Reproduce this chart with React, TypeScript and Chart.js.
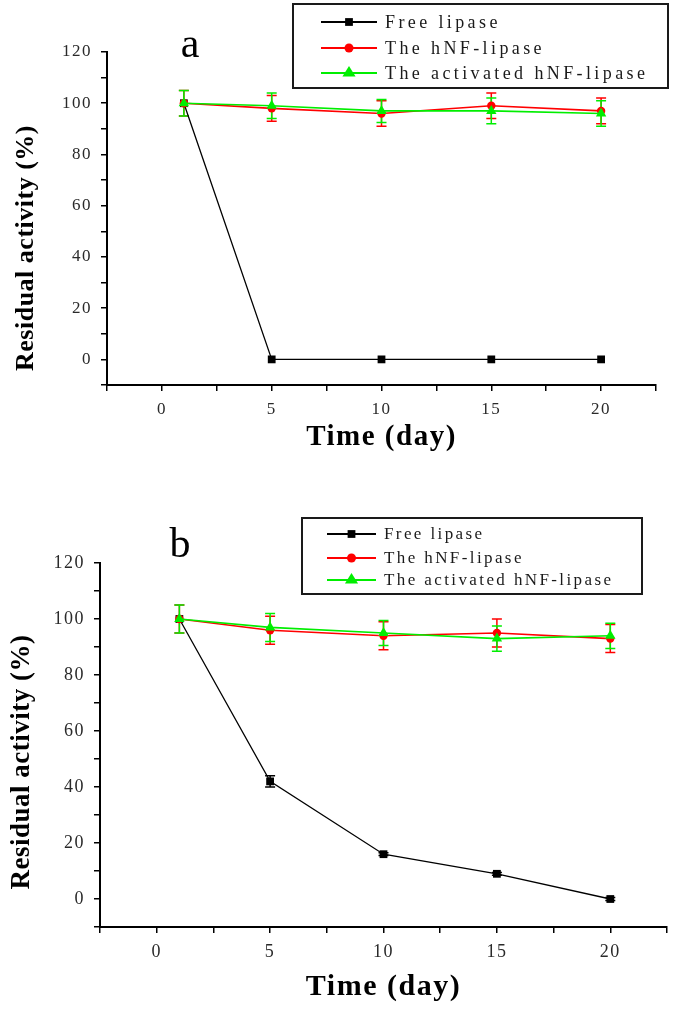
import React, { useEffect, useRef } from "react";
import { Chart, registerables } from "chart.js";

Chart.register(...registerables);

// ---------- data ----------
const days = [1, 5, 10, 15, 20];
const seriesLabels = ["Free lipase", "The hNF-lipase", "The activated hNF-lipase"];

// panel a
const freeA = [100, 0, 0, 0, 0];
const freeErrA = [0, 0, 0, 0, 0];
const hnfA = [100, 98, 96, 99, 97];
const hnfErrA = [5, 5, 5, 5, 5];
const actA = [100, 99, 97, 97, 96];
const actErrA = [5, 5, 4.5, 5, 5];

// panel b
const freeB = [100, 42, 16, 9, 0];
const freeErrB = [0, 2, 0.5, 0.5, 0.5];
const hnfB = [100, 96, 94, 95, 93];
const hnfErrB = [5, 5, 5, 5, 5];
const actB = [100, 97, 95, 93, 94];
const actErrB = [5, 5, 4.5, 4.5, 4.5];

const xMin = -2.5;
const xMax = 22.5;
const xStep = 2.5;
const xLabelEvery = 5;
const yMin = -10;
const yMax = 120;
const yStep = 10;
const yLabelEvery = 20;

const xTitle = "Time (day)";
const yTitle = "Residual activity (%)";

const seriesColors = ["#000000", "#ff0000", "#00ee00"];

const SERIF = "'Liberation Serif', 'Times New Roman', serif";

// ---------- plugins ----------
function drawMarker(ctx: CanvasRenderingContext2D, style: string, x: number, y: number, r: number, color: string) {
  ctx.save();
  ctx.fillStyle = color;
  ctx.beginPath();
  if (style === "rect") {
    const s = r * Math.SQRT1_2;
    ctx.rect(x - s, y - s, 2 * s, 2 * s);
  } else if (style === "circle") {
    ctx.arc(x, y, r, 0, Math.PI * 2);
  } else if (style === "triangle") {
    const h = r * 1.5;
    const w = r * 1.732;
    ctx.moveTo(x, y - r);
    ctx.lineTo(x + w / 2 + 0.5, y - r + h);
    ctx.lineTo(x - w / 2 - 0.5, y - r + h);
    ctx.closePath();
  }
  ctx.fill();
  ctx.restore();
}

const spacingPlugin = {
  id: "textSpacing",
  beforeUpdate(chart: any, _a: any, opts: any) {
    (chart.ctx as any).letterSpacing = `${opts.px || 0}px`;
  },
  beforeDraw(chart: any, _a: any, opts: any) {
    (chart.ctx as any).letterSpacing = `${opts.px || 0}px`;
  },
};

const errorBarPlugin = {
  id: "errorBars",
  beforeDatasetsDraw(chart: any) {
    const { ctx } = chart;
    const xs = chart.scales.x;
    const ys = chart.scales.y;
    chart.data.datasets.forEach((ds: any) => {
      const errs = ds.errors;
      if (!errs) return;
      ctx.save();
      ctx.strokeStyle = ds.borderColor;
      ctx.lineWidth = 1.5;
      ds.data.forEach((pt: any, j: number) => {
        const e = errs[j];
        if (!e) return;
        const px = xs.getPixelForValue(pt.x);
        const yt = ys.getPixelForValue(pt.y + e);
        const yb = ys.getPixelForValue(pt.y - e);
        const cap = 5;
        ctx.beginPath();
        ctx.moveTo(px, yt);
        ctx.lineTo(px, yb);
        ctx.moveTo(px - cap, yt);
        ctx.lineTo(px + cap, yt);
        ctx.moveTo(px - cap, yb);
        ctx.lineTo(px + cap, yb);
        ctx.stroke();
      });
      ctx.restore();
    });
  },
};

const boxLegendPlugin = {
  id: "boxLegend",
  afterDraw(chart: any, _args: any, opts: any) {
    if (!opts || !opts.box) return;
    const { ctx } = chart;
    const { box, rowY, lineX1, lineX2, textX, textEnd, fontSize } = opts;
    ctx.save();
    (ctx as any).letterSpacing = "0px";
    ctx.fillStyle = "#ffffff";
    ctx.fillRect(box.l, box.t, box.r - box.l, box.b - box.t);
    ctx.strokeStyle = "#1a1a1a";
    ctx.lineWidth = 2;
    ctx.strokeRect(box.l, box.t, box.r - box.l, box.b - box.t);
    ctx.font = `${fontSize}px ${SERIF}`;
    const labels = chart.data.datasets.map((d: any) => d.label as string);
    let longest = labels[0];
    labels.forEach((l: string) => { if (l.length > longest.length) longest = l; });
    const natural = ctx.measureText(longest).width;
    const spacing = Math.max(0, (textEnd - textX - natural) / (longest.length - 1));
    (ctx as any).letterSpacing = `${spacing.toFixed(2)}px`;
    ctx.textBaseline = "middle";
    ctx.textAlign = "left";
    chart.data.datasets.forEach((ds: any, i: number) => {
      const y = rowY[i];
      ctx.strokeStyle = ds.borderColor;
      ctx.lineWidth = 2;
      ctx.beginPath();
      ctx.moveTo(lineX1, y);
      ctx.lineTo(lineX2, y);
      ctx.stroke();
      drawMarker(ctx, ds.pointStyle, (lineX1 + lineX2) / 2, y, ds.legendRadius || ds.pointRadius, ds.borderColor);
      ctx.fillStyle = "#1a1a1a";
      ctx.fillText(ds.label, textX, y + 1);
    });
    ctx.restore();
  },
};

const yTitlePlugin = {
  id: "yTitle",
  afterDraw(chart: any, _args: any, opts: any) {
    if (!opts || !opts.text) return;
    const { ctx } = chart;
    ctx.save();
    (ctx as any).letterSpacing = `${opts.spacing || 0}px`;
    ctx.font = `bold ${opts.size}px ${SERIF}`;
    ctx.fillStyle = "#000";
    ctx.textAlign = "center";
    ctx.textBaseline = "middle";
    ctx.translate(opts.x, opts.y);
    ctx.rotate(-Math.PI / 2);
    ctx.fillText(opts.text, 0, 0);
    ctx.restore();
  },
};

const panelLabelPlugin = {
  id: "panelLabel",
  afterDraw(chart: any, _args: any, opts: any) {
    if (!opts || !opts.text) return;
    const { ctx } = chart;
    ctx.save();
    (ctx as any).letterSpacing = "0px";
    ctx.font = `${opts.size}px ${SERIF}`;
    ctx.fillStyle = "#000";
    ctx.textAlign = "center";
    ctx.textBaseline = "alphabetic";
    ctx.fillText(opts.text, opts.x, opts.y);
    ctx.restore();
  },
};

// ---------- config ----------
function makeConfig(p: any) {
  const mk = (vals: number[], errs: number[], i: number, style: string, radius: number, order: number, legendRadius: number, width: number) => ({
    label: seriesLabels[i],
    data: days.map((d, j) => ({ x: d, y: vals[j] })),
    errors: errs,
    borderColor: seriesColors[i],
    backgroundColor: seriesColors[i],
    borderWidth: width,
    pointStyle: style,
    pointRadius: radius,
    pointBorderWidth: 0,
    legendRadius,
    order,
    tension: 0,
  });
  return {
    type: "line",
    data: {
      datasets: [
        mk(p.free, p.freeErr, 0, "rect", 5.5, 2, 5.5, 1.3),
        mk(p.hnf, p.hnfErr, 1, "circle", 4.2, 1, 4.5, 1.6),
        mk(p.act, p.actErr, 2, "triangle", 6, 0, 7, 1.6),
      ],
    },
    options: {
      animation: false,
      responsive: false,
      maintainAspectRatio: false,
      layout: { padding: p.padding },
      plugins: {
        legend: { display: false },
        tooltip: { enabled: false },
        boxLegend: p.legend,
        panelLabel: p.panel,
        yTitle: p.yTitle,
        textSpacing: { px: 1.5 },
      },
      scales: {
        x: {
          type: "linear",
          min: xMin,
          max: xMax,
          afterFit: (s: any) => { s.height = p.xAxisHeight; },
          afterBuildTicks: (s: any) => {
            const t = [];
            for (let v = xMin; v <= xMax + 1e-9; v += xStep) t.push({ value: Math.round(v * 10) / 10 });
            s.ticks = t;
          },
          ticks: {
            autoSkip: false,
            maxRotation: 0,
            padding: 8,
            color: "#2a2a2a",
            font: { family: SERIF, size: p.tickSize },
            callback: (v: number) => (Math.abs(v % xLabelEvery) < 1e-6 ? String(v) : ""),
          },
          grid: { drawOnChartArea: false, drawTicks: true, tickLength: 6, color: "#000", lineWidth: 1.5 },
          border: { display: true, color: "#000", width: 2 },
          title: {
            display: true,
            text: xTitle,
            color: "#000",
            font: { family: SERIF, size: p.xTitleSize, weight: "bold" },
            padding: { top: 0, bottom: p.xTitlePad },
          },
        },
        y: {
          type: "linear",
          min: yMin,
          max: yMax,
          afterFit: (s: any) => { s.width = p.yAxisWidth; },
          afterBuildTicks: (s: any) => {
            const t = [];
            for (let v = yMin; v <= yMax; v += yStep) t.push({ value: v });
            s.ticks = t;
          },
          ticks: {
            autoSkip: false,
            padding: 9,
            color: "#2a2a2a",
            font: { family: SERIF, size: p.tickSize },
            callback: (v: number) => (v >= 0 && v % yLabelEvery === 0 ? String(v) : ""),
          },
          grid: { drawOnChartArea: false, drawTicks: true, tickLength: 6, color: "#000", lineWidth: 1.5 },
          border: { display: true, color: "#000", width: 2 },
          title: { display: false },
        },
      },
    },
    plugins: [spacingPlugin, errorBarPlugin, boxLegendPlugin, panelLabelPlugin, yTitlePlugin],
  };
}

const panelA = {
  free: freeA, freeErr: freeErrA, hnf: hnfA, hnfErr: hnfErrA, act: actA, actErr: actErrA,
  padding: { left: 0, right: 19, top: 52, bottom: 43 },
  xAxisHeight: 72,
  yAxisWidth: 107,
  tickSize: 17,
  xTitleSize: 29,
  xTitlePad: 2,
  yTitle: { text: yTitle, x: 26, y: 248, size: 26, spacing: 0.5 },
  legend: {
    box: { l: 293, t: 4, r: 668, b: 88 },
    rowY: [22, 48, 73],
    lineX1: 321, lineX2: 377, textX: 385, textEnd: 645, fontSize: 18,
  },
  panel: { text: "a", x: 190, y: 57, size: 42 },
};

const panelB = {
  free: freeB, freeErr: freeErrB, hnf: hnfB, hnfErr: hnfErrB, act: actB, actErr: actErrB,
  padding: { left: 0, right: 7, top: 63, bottom: 3 },
  xAxisHeight: 79,
  yAxisWidth: 100,
  tickSize: 18,
  xTitleSize: 30,
  xTitlePad: 1,
  yTitle: { text: yTitle, x: 22, y: 262, size: 27, spacing: 0.5 },
  legend: {
    box: { l: 302, t: 18, r: 642, b: 94 },
    rowY: [34, 58, 80],
    lineX1: 327, lineX2: 376, textX: 384, textEnd: 611, fontSize: 17,
  },
  panel: { text: "b", x: 180, y: 57, size: 42 },
};

function Panel({ top, height, params }: { top: number; height: number; params: any }) {
  const ref = useRef<HTMLCanvasElement | null>(null);
  useEffect(() => {
    if (!ref.current) return;
    const chart = new Chart(ref.current, makeConfig(params) as any);
    return () => chart.destroy();
  }, [params]);
  return (
    <canvas
      ref={ref}
      width={675}
      height={height}
      style={{ position: "absolute", left: 0, top, width: 675, height, display: "block" }}
    />
  );
}

export default function App() {
  return (
    <div style={{ position: "absolute", left: 0, top: 0, width: 675, height: 1009, background: "#fff", overflow: "hidden" }}>
      <Panel top={0} height={500} params={panelA} />
      <Panel top={500} height={509} params={panelB} />
    </div>
  );
}
